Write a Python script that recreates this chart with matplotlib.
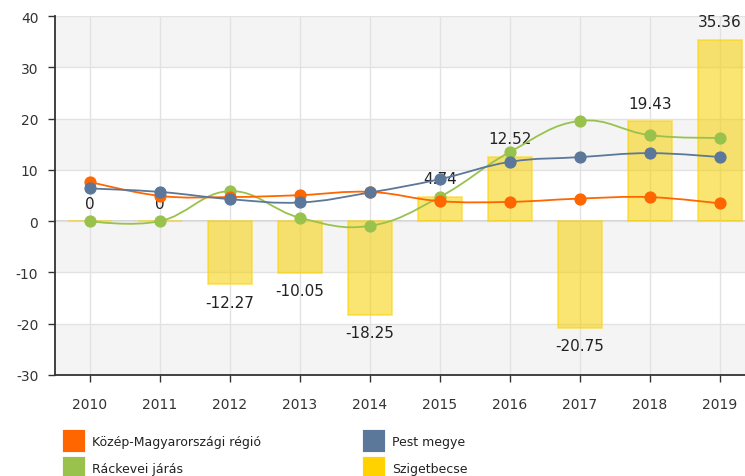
import matplotlib

matplotlib.use("Agg")

import matplotlib.pyplot as plt
from matplotlib.patches import Rectangle, PathPatch
from matplotlib.path import Path

plt.rcParams["axes.unicode_minus"] = False
plt.rcParams["font.family"] = ["DejaVu Sans"]

years = [2010, 2011, 2012, 2013, 2014, 2015, 2016, 2017, 2018, 2019]
kozep = [7.66, 4.93, 4.7, 5.07, 5.7, 3.9, 3.76, 4.4, 4.68, 3.45]
pest = [6.37, 5.7, 4.29, 3.64, 5.59, 8.19, 11.56, 12.48, 13.26, 12.48]
rackevei = [0.0, 0.0, 5.85, 0.65, -0.91, 4.74, 13.5, 19.55, 16.76, 16.24]
szigetbecse = [0, 0, -12.27, -10.05, -18.25, 4.74, 12.52, -20.75, 19.43, 35.36]

names = ["Közép-Magyarországi régió", "Pest megye", "Ráckevei járás", "Szigetbecse"]
colors = ["#ff6600", "#5b7799", "#99c24d", "#ffd200"]


def spline_path(xs, ys, smoothing=1.5):
    """Highcharts-style spline: cubic bezier through the points."""
    denom = smoothing + 1
    n = len(xs)
    left = [(xs[i], ys[i]) for i in range(n)]
    right = [(xs[i], ys[i]) for i in range(n)]
    for i in range(1, n - 1):
        lx = (smoothing * xs[i] + xs[i - 1]) / denom
        ly = (smoothing * ys[i] + ys[i - 1]) / denom
        rx = (smoothing * xs[i] + xs[i + 1]) / denom
        ry = (smoothing * ys[i] + ys[i + 1]) / denom
        corr = (ry - ly) * (rx - xs[i]) / (rx - lx) + ys[i] - ry
        left[i] = (lx, ly + corr)
        right[i] = (rx, ry + corr)
    verts = [(xs[0], ys[0])]
    codes = [Path.MOVETO]
    for i in range(1, n):
        verts += [right[i - 1], left[i], (xs[i], ys[i])]
        codes += [Path.CURVE4] * 3
    return Path(verts, codes)


fig = plt.figure(figsize=(7.45, 4.77), dpi=100)
ax = fig.add_axes([55 / 745, 1 - 376 / 477, 700 / 745, 359 / 477])

# alternating bands
for lo in (30, 10, -10, -30):
    ax.axhspan(lo, lo + 10, color="#f4f4f4", zorder=0, lw=0)
ax.set_xlim(2009.5, 2019.5)
ax.set_ylim(-30, 40)
ax.set_yticks(range(-30, 41, 10))
ax.set_xticks(years)
ax.grid(True, color="#e2e2e2", lw=1, zorder=0.5)
ax.axhline(0, color="#c8c8c8", lw=1.2, zorder=0.6)

ax.bar(years, szigetbecse, width=0.63, color="#f7d000", alpha=0.55,
       edgecolor="#ffd200", lw=1.3, zorder=2)

for y, v in zip(years, szigetbecse):
    off = 13 if v >= 0 else -13
    ax.annotate(f"{v:g}", (y, v), xytext=(0, off), textcoords="offset points",
                ha="center", va="center", fontsize=11, color="#222222", zorder=2.5)

for vals, c in zip([rackevei, kozep, pest], [colors[2], colors[0], colors[1]]):
    ax.add_patch(PathPatch(spline_path(years, vals), fill=False, edgecolor=c,
                           lw=1.3, zorder=3))
    ax.plot(years, vals, "o", color=c, ms=7.8, zorder=4)

for s in ("top", "right"):
    ax.spines[s].set_visible(False)
for s in ("left", "bottom"):
    ax.spines[s].set_color("#333333")
    ax.spines[s].set_linewidth(1.3)
ax.tick_params(axis="both", length=5, width=1, color="#333333",
               labelsize=10, labelcolor="#333333")
ax.tick_params(axis="y", pad=7)
ax.tick_params(axis="x", pad=11)

# legend
legend_pos = [(62, 430), (362, 430), (62, 457), (362, 457)]
for (px, py), k in zip(legend_pos, range(4)):
    fig.patches.append(Rectangle((px / 745, 1 - (py + 23) / 477), 23 / 745, 23 / 477,
                                 transform=fig.transFigure, facecolor=colors[k],
                                 edgecolor="white", lw=0.6))
    fig.text((px + 30) / 745, 1 - (py + 12.5) / 477, names[k], fontsize=9,
             color="#222222", va="center", ha="left")

fig.savefig("out.png", dpi=100)
